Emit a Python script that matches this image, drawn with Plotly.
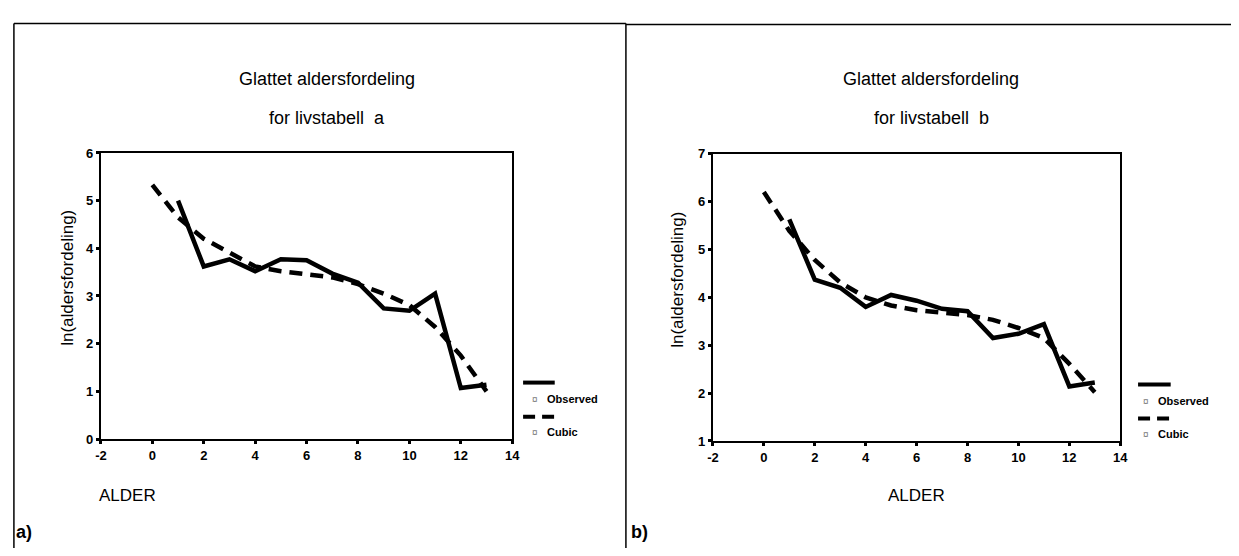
import plotly.graph_objects as go

W, H = 1239, 556

# ---- data ----
alder = [1, 2, 3, 4, 5, 6, 7, 8, 9, 10, 11, 12, 13]
alder_cubic = [0, 1, 2, 3, 4, 5, 6, 7, 8, 9, 10, 11, 12, 13]

observed_a = [5.00, 3.62, 3.77, 3.52, 3.77, 3.75, 3.47, 3.28, 2.74, 2.69, 3.05, 1.07, 1.14]
cubic_a = [5.33, 4.65, 4.20, 3.90, 3.62, 3.52, 3.45, 3.39, 3.25, 3.05, 2.81, 2.35, 1.75, 1.00]

observed_b = [5.63, 4.37, 4.20, 3.80, 4.05, 3.93, 3.76, 3.71, 3.15, 3.24, 3.44, 2.14, 2.22]
cubic_b = [6.20, 5.39, 4.78, 4.31, 4.00, 3.83, 3.73, 3.68, 3.63, 3.53, 3.36, 3.15, 2.61, 2.02]

x_tickvals = [-2, 0, 2, 4, 6, 8, 10, 12, 14]
x_ticktext = ["-2", "0", "2", "4", "6", "8", "10", "12", "14"]
ya_tickvals = [0, 1, 2, 3, 4, 5, 6]
yb_tickvals = [1, 2, 3, 4, 5, 6, 7]

titles_a = ["Glattet aldersfordeling", "for livstabell  a"]
titles_b = ["Glattet aldersfordeling", "for livstabell  b"]
legend_labels = ["Observed", "Cubic"]

FONT = "Liberation Sans, Arial, sans-serif"


def px(x):
    return x / W


def py(y):
    return 1 - y / H


fig = go.Figure()

fig.add_trace(go.Scatter(x=alder, y=observed_a, mode="lines", xaxis="x", yaxis="y",
                         line=dict(color="black", width=4.5), showlegend=False))
fig.add_trace(go.Scatter(x=alder_cubic, y=cubic_a, mode="lines", xaxis="x", yaxis="y",
                         line=dict(color="black", width=4.5, dash="13px,8px"), showlegend=False))
fig.add_trace(go.Scatter(x=alder, y=observed_b, mode="lines", xaxis="x2", yaxis="y2",
                         line=dict(color="black", width=4.5), showlegend=False))
fig.add_trace(go.Scatter(x=alder_cubic, y=cubic_b, mode="lines", xaxis="x2", yaxis="y2",
                         line=dict(color="black", width=4.5, dash="13px,8px"), showlegend=False))

tickfont = dict(family=FONT, size=13, color="black", weight="bold")
axis_common = dict(showline=True, linecolor="black", linewidth=2, mirror=True,
                   ticks="outside", ticklen=3, tickwidth=3, tickcolor="black",
                   showgrid=False, zeroline=False, tickfont=tickfont)

fig.update_layout(
    width=W, height=H,
    margin=dict(l=0, r=0, t=0, b=0),
    paper_bgcolor="white", plot_bgcolor="white",
    xaxis=dict(domain=[px(96), px(512)], range=[-2, 14], tickvals=x_tickvals,
               ticktext=x_ticktext, anchor="y", **axis_common),
    yaxis=dict(domain=[py(444), py(150)], range=[0, 6], tickvals=ya_tickvals,
               anchor="x", **axis_common),
    xaxis2=dict(domain=[px(715), px(1127)], range=[-2, 14], tickvals=x_tickvals,
                ticktext=x_ticktext, anchor="y2", **axis_common),
    yaxis2=dict(domain=[py(446), py(150.8)], range=[1, 7], tickvals=yb_tickvals,
                anchor="x2", **axis_common),
)

shapes = []
ann = []

# panel frames
frame = dict(type="line", xref="paper", yref="paper", line=dict(color="black", width=1.5))
shapes.append(dict(frame, x0=px(8), x1=px(8), y0=py(17), y1=py(556)))
shapes.append(dict(frame, x0=px(8), x1=px(627), y0=py(17), y1=py(17)))
shapes.append(dict(frame, x0=px(627), x1=px(627), y0=py(17), y1=py(556)))
shapes.append(dict(frame, x0=px(627), x1=px(1239), y0=py(18), y1=py(18)))

# titles
for cx, titles in [(325, titles_a), (936, titles_b)]:
    for i, t in enumerate(titles):
        ann.append(dict(text=t, x=px(cx), y=py(74 + 40 * i), xref="paper", yref="paper",
                        showarrow=False, xanchor="center", yanchor="middle",
                        font=dict(family=FONT, size=18, color="black")))

# y axis titles
for cx, cy in [(62, 278), (679, 280)]:
    ann.append(dict(text="ln(aldersfordeling)", x=px(cx), y=py(cy), xref="paper", yref="paper",
                    showarrow=False, textangle=-90, xanchor="center", yanchor="middle",
                    font=dict(family=FONT, size=17, color="black")))

# x axis titles
for lx in [92, 890]:
    ann.append(dict(text="ALDER", x=px(lx), y=py(502), xref="paper", yref="paper",
                    showarrow=False, xanchor="left", yanchor="middle",
                    font=dict(family=FONT, size=17, color="black")))

# panel letters
for lx, t in [(8, "a)"), (630, "b)")]:
    ann.append(dict(text="<b>" + t + "</b>", x=px(lx), y=py(540), xref="paper", yref="paper",
                    showarrow=False, xanchor="left", yanchor="middle",
                    font=dict(family=FONT, size=18, color="black")))

# legends
for (lx0, lx1, ly, mx, tx) in [(523, 555, 386, 535, 545), (1145, 1178, 388, 1153, 1163)]:
    shapes.append(dict(type="line", xref="paper", yref="paper", x0=px(lx0), x1=px(lx1),
                       y0=py(ly), y1=py(ly), line=dict(color="black", width=4)))
    shapes.append(dict(type="line", xref="paper", yref="paper", x0=px(lx0), x1=px(lx1),
                       y0=py(ly + 35), y1=py(ly + 35),
                       line=dict(color="black", width=4, dash="12px,7px")))
    for k, lab in enumerate(legend_labels):
        yy = ly + 17 + 34 * k
        ann.append(dict(text="¤", x=px(mx), y=py(yy), xref="paper", yref="paper",
                        showarrow=False, xanchor="center", yanchor="middle",
                        font=dict(family=FONT, size=10, color="#777777")))
        ann.append(dict(text=lab, x=px(tx), y=py(yy), xref="paper", yref="paper",
                        showarrow=False, xanchor="left", yanchor="middle",
                        font=dict(family=FONT, size=11, color="black", weight="bold")))

fig.update_layout(shapes=shapes, annotations=ann)
fig.write_html("out.html")
